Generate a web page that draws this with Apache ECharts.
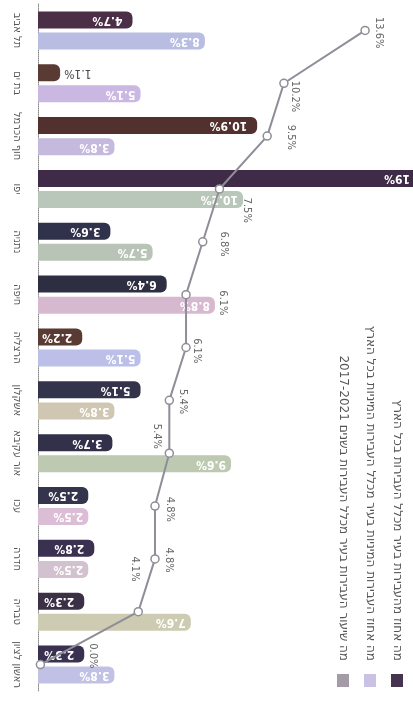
<!DOCTYPE html>
<html><head><meta charset="utf-8">
<script src="https://cdn.jsdelivr.net/npm/echarts@6/dist/echarts.min.js"></script>
<style>html,body{margin:0;padding:0;background:#fff}#c{width:413px;height:717px}</style>
</head><body><div id="c"></div>
<script>
// ---- data ----
const categories = ['תל אביב','בת ים','חוף הכרמל','יפו','נתניה','חיפה','הרצליה','אשקלון','אור עקיבא','עכו','חדרה','טבריה','ראשון לציון'];
const darkValues  = [4.7, 1.1, 10.9, 19, 3.6, 6.4, 2.2, 5.1, 3.7, 2.5, 2.8, 2.3, 2.3];
const lightValues = [8.3, 5.1, 3.8, 10.2, 5.7, 8.8, 5.1, 3.8, 9.6, 2.5, 2.5, 7.6, 3.8];
const lineValues  = [13.6, 10.2, 9.5, 7.5, 6.8, 6.1, 6.1, 5.4, 5.4, 4.8, 4.8, 4.1, 0.0];
const legendNames = [
  'מה אחוז מהעבירות בעיר מכלל העבירות בכל הארץ',
  'מה אחוז העבירות המיניות בעיר מכלל העבירות המיניות בכל הארץ',
  'מה שיעור העבירות בעיר מכלל העבירות בשנים 2017-2021'
];

// ---- styles ----
const darkColors  = ['#4b2f47','#5a3b33','#52302e','#3f2b47','#30314a','#2e2e42','#5a3b33','#33344c','#31324a','#34344c','#3a3150','#3b3046','#3a3150'];
const lightColors = ['#b9bde2','#cbb8e2','#c5b9de','#b9c6ba','#b8c5b6','#d6b9cf','#bcc0e8','#cfc7b1','#bdc9b1','#dcbdd6','#d2c1ce','#cdcbb1','#c1c1e6'];
const legendColors = ['#46334f','#c9c2e4','#a39ca6'];
const lineColor = '#8e8d98';
// label nudges [dx, dy] from point to label centre (layout only)
const lineLabelNudge = [[15,3],[12,14],[24,2],[28,22],[22,3],[38,9],[12,4],[14,2],[-12,-16],[16,4],[15,2],[-3,-42],[53,-8]];
const FONT = '"DejaVu Sans Condensed","Liberation Sans",sans-serif';
const LEGEND_FONT = '"DejaVu Sans","Liberation Sans",sans-serif';

const chart = echarts.init(document.getElementById('c'), null, {renderer:'canvas'});

function barData(vals, colors) {
  return vals.map((v, i) => {
    const small = v < 1.5;
    return {
      value: v,
      itemStyle: { color: colors[i] },
      label: small ? {
        position: 'right', distance: 4, color: '#444', fontWeight: 'normal', rotate: 180,
        align: 'right', verticalAlign: 'middle'
      } : {}
    };
  });
}

const option = {
  animation: false,
  backgroundColor: '#ffffff',
  grid: { left: 38, right: -7, top: 4, bottom: 26, containLabel: false, outerBoundsMode: 'none' },
  xAxis: [
    { type: 'value', min: 0, max: 19, show: false },
    { type: 'value', min: -0.1, max: 15.9, show: false }
  ],
  yAxis: [{
    type: 'category', data: categories, inverse: true, offset: 5,
    axisLine: { show: true, lineStyle: { color: '#888', type: 'dotted', width: 1 } },
    axisTick: { show: false },
    axisLabel: {
      rotate: -90, margin: 11, color: '#555', fontSize: 11, fontFamily: FONT,
      align: 'center', verticalAlign: 'top', interval: 0
    }
  }],
  series: [
    {
      type: 'bar', xAxisIndex: 0, yAxisIndex: 0, barWidth: 17, barGap: '24%',
      data: barData(darkValues, darkColors),
      itemStyle: { borderRadius: [0, 6, 6, 0] },
      label: {
        show: true, position: 'insideRight', distance: 10, formatter: '{c}%',
        rotate: 180, align: 'left', verticalAlign: 'middle',
        color: '#fff', fontSize: 12, fontWeight: 'bold', fontFamily: FONT
      },
      z: 2
    },
    {
      type: 'bar', xAxisIndex: 0, yAxisIndex: 0, barWidth: 17, barGap: '24%',
      data: barData(lightValues, lightColors),
      itemStyle: { borderRadius: [0, 6, 6, 0] },
      label: {
        show: true, position: 'insideRight', distance: 5, formatter: '{c}%',
        rotate: 180, align: 'left', verticalAlign: 'middle',
        color: '#fff', fontSize: 12, fontWeight: 'bold', fontFamily: FONT
      },
      z: 2
    },
    {
      type: 'line', xAxisIndex: 1, yAxisIndex: 0,
      data: lineValues.map((v, i) => ({
        value: v,
        label: { position: [4 + lineLabelNudge[i][0], 4 + lineLabelNudge[i][1]] }
      })),
      symbol: 'circle', symbolSize: 8,
      lineStyle: { color: lineColor, width: 2 },
      itemStyle: { color: '#fff', borderColor: lineColor, borderWidth: 1.5 },
      label: {
        show: true, formatter: p => p.value.toFixed(1) + '%',
        rotate: -90, align: 'center', verticalAlign: 'middle',
        color: '#666', fontSize: 11, fontFamily: FONT
      },
      z: 5
    }
  ],
  graphic: legendNames.map((name, i) => {
    const x = [397, 370, 343][i];
    return {
      type: 'group',
      children: [
        { type: 'rect', shape: { x: x - 6, y: 674, width: 12, height: 13 }, style: { fill: legendColors[i] } },
        { type: 'text', x: x, y: 661, rotation: -Math.PI / 2,
          style: { text: name, textAlign: 'right', textVerticalAlign: 'middle', fill: '#555', font: '12px ' + LEGEND_FONT } }
      ]
    };
  })
};
chart.setOption(option);
</script>
</body></html>
